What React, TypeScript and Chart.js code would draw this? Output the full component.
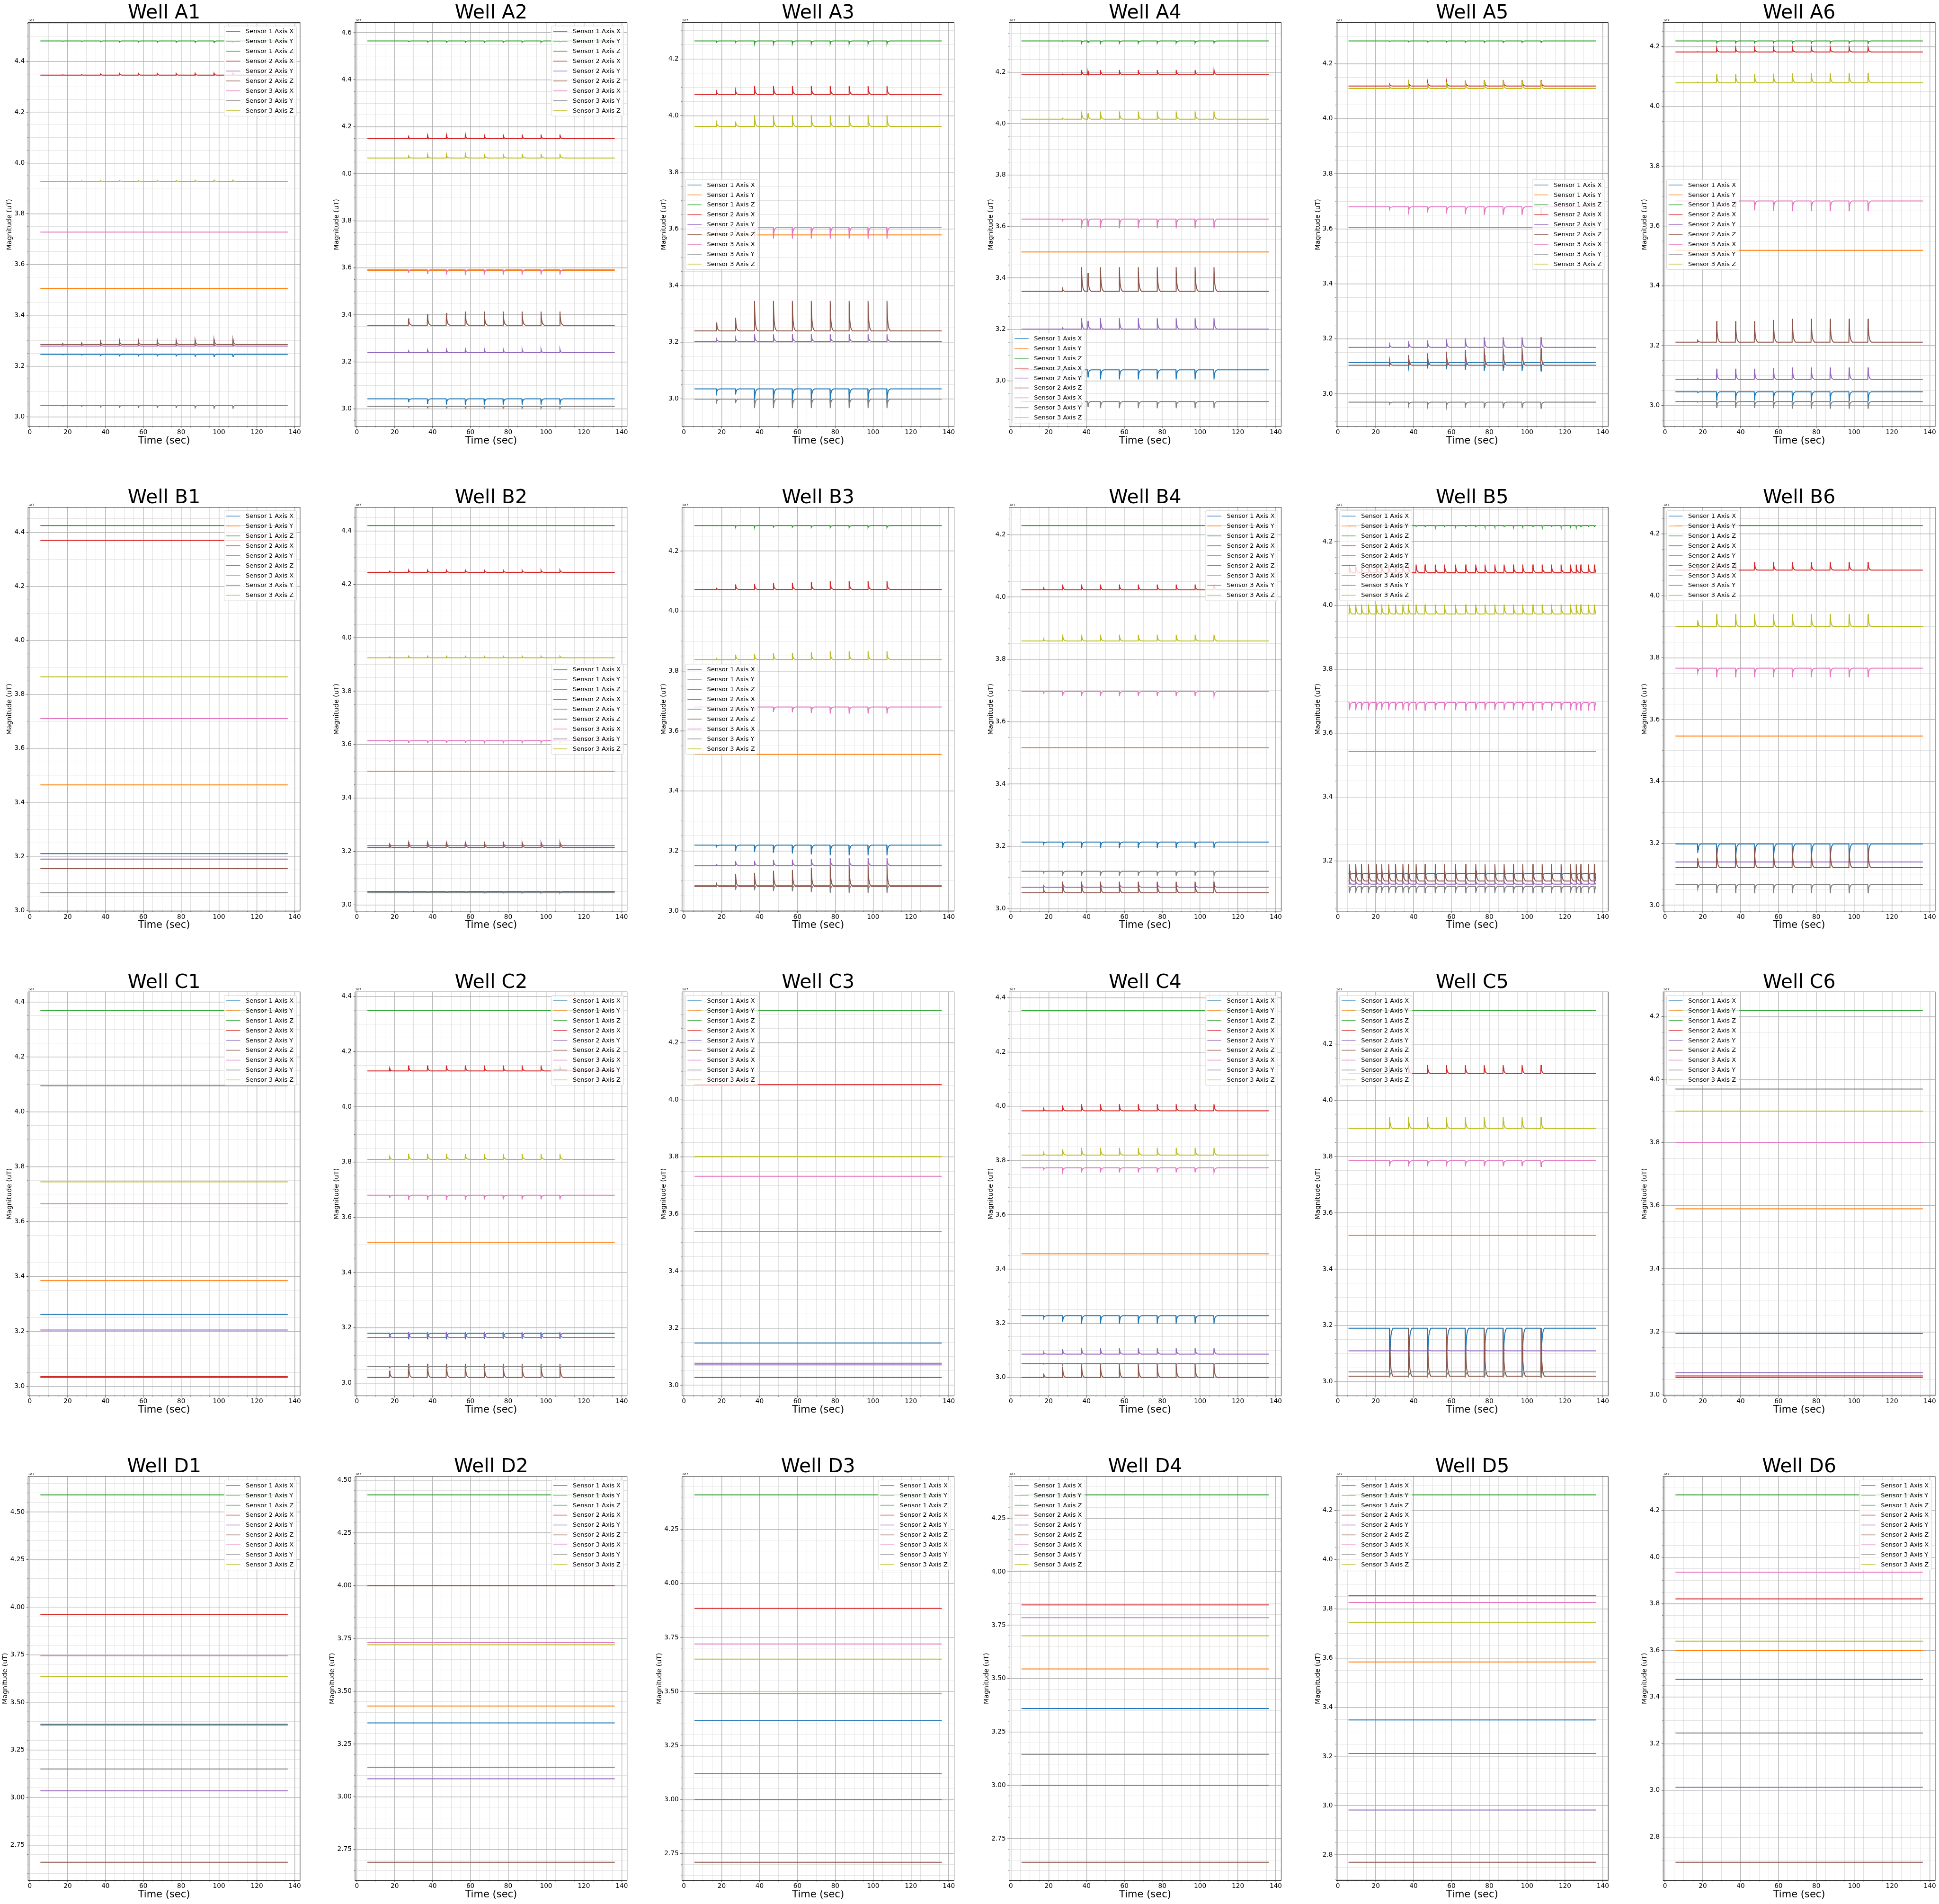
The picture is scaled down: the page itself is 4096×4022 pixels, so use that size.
import React, { useEffect, useRef } from 'react';
import { Chart, registerables } from 'chart.js';

Chart.register(...registerables);

const S = 0.722;
const FONT = "'DejaVu Sans', 'Liberation Sans', sans-serif";

const WELLS = [
  'A1', 'A2', 'A3', 'A4', 'A5', 'A6',
  'B1', 'B2', 'B3', 'B4', 'B5', 'B6',
  'C1', 'C2', 'C3', 'C4', 'C5', 'C6',
  'D1', 'D2', 'D3', 'D4', 'D5', 'D6',
];

const SERIES_LABELS = [
  'Sensor 1 Axis X', 'Sensor 1 Axis Y', 'Sensor 1 Axis Z',
  'Sensor 2 Axis X', 'Sensor 2 Axis Y', 'Sensor 2 Axis Z',
  'Sensor 3 Axis X', 'Sensor 3 Axis Y', 'Sensor 3 Axis Z',
];

const SERIES_COLORS = [
  '#1f77b4', '#ff7f0e', '#2ca02c', '#d62728', '#9467bd',
  '#8c564b', '#e377c2', '#7f7f7f', '#bcbd22',
];

// time span of the recordings (sec)
const TIME_START = 5.6;
const TIME_END = 136.3;

// y-axis major tick step (units of 1e7) per well
const Y_MAJOR_STEP = [
  0.2, 0.2, 0.2, 0.2, 0.2, 0.2,
  0.2, 0.2, 0.2, 0.2, 0.2, 0.2,
  0.2, 0.2, 0.2, 0.2, 0.2, 0.2,
  0.25, 0.25, 0.25, 0.25, 0.2, 0.2,
];

// baseline magnitude (1e7) per well, series order as SERIES_LABELS
const BASELINE = [
  [3.246, 3.505, 4.481, 4.346, 3.279, 3.285, 3.728, 3.045, 3.928],
  [3.043, 3.588, 4.565, 4.149, 3.239, 3.356, 3.592, 3.011, 4.067],
  [3.035, 3.579, 4.264, 4.075, 3.203, 3.240, 3.606, 2.999, 3.962],
  [3.043, 3.501, 4.321, 4.190, 3.201, 3.348, 3.629, 2.920, 4.017],
  [3.114, 3.604, 4.283, 4.119, 3.169, 3.104, 3.680, 2.970, 4.110],
  [3.046, 3.519, 4.219, 4.182, 3.087, 3.212, 3.684, 3.013, 4.079],
  [3.210, 3.465, 4.425, 4.370, 3.190, 3.155, 3.710, 3.065, 3.865],
  [3.050, 3.500, 4.420, 4.245, 3.222, 3.215, 3.615, 3.045, 3.925],
  [3.219, 3.522, 4.285, 4.072, 3.151, 3.082, 3.680, 3.085, 3.838],
  [3.214, 3.517, 4.229, 4.023, 3.069, 3.051, 3.697, 3.120, 3.859],
  [3.161, 3.542, 4.250, 4.103, 3.127, 3.137, 3.696, 3.120, 3.973],
  [3.198, 3.547, 4.227, 4.083, 3.140, 3.121, 3.766, 3.067, 3.901],
  [3.262, 3.385, 4.370, 3.035, 3.205, 3.032, 3.665, 4.095, 3.745],
  [3.180, 3.510, 4.350, 4.130, 3.165, 3.020, 3.680, 3.060, 3.810],
  [3.148, 3.539, 4.314, 4.053, 3.071, 3.027, 3.732, 3.077, 3.801],
  [3.228, 3.456, 4.354, 3.983, 3.086, 3.000, 3.773, 3.052, 3.820],
  [3.190, 3.520, 4.320, 4.095, 3.110, 3.020, 3.785, 3.035, 3.900],
  [3.195, 3.590, 4.220, 3.060, 3.070, 3.055, 3.800, 3.970, 3.900],
  [3.385, 3.380, 4.590, 3.960, 3.035, 2.660, 3.745, 3.150, 3.635],
  [3.350, 3.430, 4.430, 4.000, 3.085, 2.690, 3.730, 3.140, 3.720],
  [3.365, 3.490, 4.410, 3.885, 3.000, 2.710, 3.720, 3.120, 3.650],
  [3.360, 3.545, 4.360, 3.845, 3.000, 2.640, 3.785, 3.145, 3.700],
  [3.348, 3.584, 4.263, 3.853, 2.982, 2.770, 3.826, 3.212, 3.743],
  [3.476, 3.600, 4.267, 3.821, 3.013, 2.692, 3.936, 3.246, 3.640],
];

// signed peak height of the stimulation spikes (1e7) per well and series
const SPIKE_PEAK = [
  [-0.008, 0, -0.006, 0.008, 0.008, 0.02, 0, -0.011, 0.004],
  [-0.025, 0, -0.006, 0.018, 0.015, 0.058, -0.021, -0.008, 0.018],
  [-0.045, 0, -0.01, 0.03, 0.025, 0.106, -0.04, -0.032, 0.04],
  [-0.037, 0, -0.008, 0.018, 0.043, 0.094, -0.036, -0.026, 0.03],
  [-0.031, 0, -0.005, 0.022, 0.037, 0.062, -0.03, -0.022, 0.03],
  [-0.031, 0, -0.008, 0.015, 0.04, 0.078, -0.033, -0.022, 0.032],
  [0, 0, 0, 0, 0, 0, 0, 0, 0],
  [-0.005, 0, 0, 0.008, 0.012, 0.02, -0.008, 0, 0.006],
  [-0.034, 0, -0.006, 0.028, 0.025, 0.069, -0.022, -0.025, 0.028],
  [-0.02, 0, 0, 0.017, 0.015, 0.036, -0.015, -0.014, 0.02],
  [-0.015, 0, -0.003, 0.025, 0.01, 0.053, -0.024, -0.02, 0.03],
  [-0.058, 0, 0, 0.026, 0, 0.062, -0.028, -0.027, 0.04],
  [0, 0, 0, 0, 0, 0, 0, 0, 0],
  [-0.02, 0, 0, 0.02, 0.02, 0.05, -0.015, -0.01, 0.02],
  [0, 0, 0, 0, 0, 0, 0, 0, 0],
  [-0.03, 0, 0, 0.025, 0.023, 0.049, -0.017, -0.005, 0.027],
  [-0.17, 0, 0, 0.03, 0.01, 0.17, -0.02, -0.02, 0.04],
  [0, 0, 0, 0, 0, 0, 0, 0, 0],
  [0, 0, 0, 0, 0, 0, 0, 0, 0],
  [0, 0, 0, 0, 0, 0, 0, 0, 0],
  [0, 0, 0, 0, 0, 0, 0, 0, 0],
  [0, 0, 0, 0, 0, 0, 0, 0, 0],
  [0, 0, 0, 0, 0, 0, 0, 0, 0],
  [0, 0, 0, 0, 0, 0, 0, 0, 0],
];

const T10 = [17.3, 27.3, 37.3, 47.3, 57.3, 67.3, 77.3, 87.3, 97.3, 107.3];
const T9 = [27.3, 37.3, 47.3, 57.3, 67.3, 77.3, 87.3, 97.3, 107.3];
const T_A4 = [27.3, 37.3, 40.7, 47.3, 57.3, 67.3, 77.3, 87.3, 97.3, 107.3];
const T_B5 = [
  6.0, 9.4, 12.4, 16.1, 20.3, 23.1, 26.8, 30.4, 34.3, 37.2, 41.3, 46.0, 51.4,
  56.3, 62.1, 67.5, 72.8, 77.7, 82.9, 87.8, 92.7, 97.6, 103.0, 107.9, 112.8,
  117.9, 122.9, 125.9, 128.3, 132.3, 135.5,
];

// spike onset times (sec) per well
const SPIKE_TIMES = [
  T10, T9, T10, T_A4, T9, T10,
  [], T10, T10, T10, T_B5, T10,
  [], T10, [], T10, T9, [],
  [], [], [], [], [], [],
];

// relative size of each spike per well
const SPIKE_WEIGHT = [
  [0.2, 0.3, 0.6, 0.8, 0.8, 0.8, 0.8, 0.9, 1, 1],
  [0.5, 0.8, 0.9, 1, 1, 1, 1, 1, 1],
  [0.28, 0.44, 1, 1, 1, 1, 1, 1, 1, 1],
  [0.1, 1, 0.75, 1, 1, 1, 1, 1, 1, 1],
  [0.3, 0.6, 0.7, 0.8, 0.9, 1, 1, 1, 1],
  [0.08, 0.9, 0.9, 0.9, 0.95, 1, 1, 1, 1, 1],
  [],
  [0.5, 1, 1, 1, 1, 1, 1, 1, 1, 1],
  [0.1, 0.6, 0.65, 0.75, 0.8, 0.9, 1, 1, 1, 1],
  [0.3, 1, 1, 1, 1, 1, 1, 1, 1, 1],
  [],
  [0.5, 1, 1, 1, 1, 1, 1, 1, 1, 1],
  [],
  [0.5, 1, 1, 1, 1, 1, 1, 1, 1, 1],
  [],
  [0.3, 0.8, 1, 1, 1, 1, 1, 1, 1, 1],
  [1, 1, 1, 1, 1, 1, 1, 1, 1],
  [], [], [], [], [], [], [],
];

// shape of one spike: [seconds after onset, fraction of peak]
const SPIKE_PROFILE = [
  [-0.08, 0], [0.05, 1], [0.22, 0.6], [0.45, 0.33], [0.8, 0.14], [1.25, 0.05], [1.8, 0],
];

const LEGEND_LOC = [
  'upper right', 'upper right', 'center left', 'lower left', 'center right', 'center left',
  'upper right', 'center right', 'center left', 'upper right', 'upper left', 'upper left',
  'upper right', 'upper right', 'upper left', 'upper right', 'upper left', 'upper left',
  'upper right', 'upper right', 'upper right', 'upper left', 'upper left', 'upper right',
];

type Pt = { x: number; y: number };

function buildSeries(w: number, s: number): Pt[] {
  const b = BASELINE[w][s];
  const a = SPIKE_PEAK[w][s];
  const pts: Pt[] = [{ x: TIME_START, y: b }];
  if (a !== 0) {
    SPIKE_TIMES[w].forEach((t, i) => {
      const k = SPIKE_WEIGHT[w][i] ?? 1;
      SPIKE_PROFILE.forEach(([dx, p]) => {
        const x = t + dx;
        if (x > TIME_START && x < TIME_END) pts.push({ x, y: b + a * k * p });
      });
    });
  }
  pts.push({ x: TIME_END, y: b });
  return pts;
}

type Tk = { value: number; major: boolean };

function makeTicks(min: number, max: number, major: number, minor: number): Tk[] {
  const out: Tk[] = [];
  const start = Math.ceil(min / minor - 1e-9);
  const end = Math.floor(max / minor + 1e-9);
  for (let i = start; i <= end; i++) {
    const v = +(i * minor).toFixed(6);
    const r = v / major;
    out.push({ value: v, major: Math.abs(r - Math.round(r)) < 1e-6 });
  }
  return out;
}

const GRID_MAJOR = 'rgba(176,176,176,0.9)';
const GRID_MINOR = 'rgba(200,200,200,0.7)';

function WellChart({ w }: { w: number }) {
  const ref = useRef<HTMLCanvasElement | null>(null);
  const c = w % 6;
  const r = Math.floor(w / 6);
  const colLeft = (82 + 956.8 * c) * S;
  const rowTop = (66 + 1418 * r) * S;
  const plotW = 796 * S;
  const plotH = 1182 * S;
  const cl = Math.floor(colLeft - 55);
  const ct = Math.floor(rowTop - 47);
  const yW = colLeft - cl;
  const topPad = rowTop - ct;
  const xH = 48;
  const W = Math.ceil(yW + plotW + 25);
  const H = Math.ceil(topPad + plotH + xH);

  useEffect(() => {
    const canvas = ref.current;
    if (!canvas) return;
    const datasets = SERIES_LABELS.map((label, s) => ({
      label,
      data: buildSeries(w, s),
      borderColor: SERIES_COLORS[s],
      backgroundColor: SERIES_COLORS[s],
      borderWidth: 2,
      pointRadius: 0,
      fill: false,
      tension: 0,
      order: 8 - s,
    }));
    let lo = Infinity;
    let hi = -Infinity;
    datasets.forEach((d) => d.data.forEach((p) => { lo = Math.min(lo, p.y); hi = Math.max(hi, p.y); }));
    const yMin = lo - 0.05 * (hi - lo);
    const yMax = hi + 0.05 * (hi - lo);
    const xMin = TIME_START - 0.05 * (TIME_END - TIME_START);
    const xMax = TIME_END + 0.05 * (TIME_END - TIME_START);
    const yStep = Y_MAJOR_STEP[w];
    const yDec = yStep === 0.25 ? 2 : 1;
    const yLabelOffset = yDec === 2 ? 47.5 : 38.5;
    const xTicks = makeTicks(xMin, xMax, 20, 5);
    const yTicks = makeTicks(yMin, yMax, yStep, 0.05);

    const gridColor = (ctx: any) => (ctx.tick && ctx.tick.major ? GRID_MAJOR : GRID_MINOR);
    const gridWidth = (ctx: any) => (ctx.tick && ctx.tick.major ? 1.45 : 0.75);

    const decor = {
      id: 'decor',
      afterDatasetsDraw(chart: any) {
        const ctx = chart.ctx as CanvasRenderingContext2D;
        const a = chart.chartArea;
        ctx.save();
        const fs = 13;
        ctx.font = `${fs}px ${FONT}`;
        let tw = 0;
        SERIES_LABELS.forEach((t) => { tw = Math.max(tw, ctx.measureText(t).width); });
        const bw = 45.5 + tw + 6.5;
        const rowH = 20.9;
        const bh = 11.6 * 2 + rowH * 8;
        const pad = 7.2;
        const loc = LEGEND_LOC[w];
        const bx = loc.includes('right') ? a.right - pad - bw : a.left + pad;
        let by = a.top + pad;
        if (loc.startsWith('center')) by = (a.top + a.bottom) / 2 - bh / 2;
        if (loc.startsWith('lower')) by = a.bottom - pad - bh;
        ctx.beginPath();
        (ctx as any).roundRect(bx, by, bw, bh, 3);
        ctx.fillStyle = 'rgba(255,255,255,0.8)';
        ctx.fill();
        ctx.lineWidth = 0.8;
        ctx.strokeStyle = '#cccccc';
        ctx.stroke();
        SERIES_LABELS.forEach((t, i) => {
          const cy = by + 11.6 + i * rowH;
          ctx.globalAlpha = 0.8;
          ctx.strokeStyle = SERIES_COLORS[i];
          ctx.lineWidth = 1.6;
          ctx.beginPath();
          ctx.moveTo(bx + 4.3, cy);
          ctx.lineTo(bx + 33.9, cy);
          ctx.stroke();
          ctx.globalAlpha = 1;
          ctx.fillStyle = '#000';
          ctx.textBaseline = 'middle';
          ctx.textAlign = 'left';
          ctx.fillText(t, bx + 45.5, cy + 0.5);
        });
        ctx.restore();
      },
      afterDraw(chart: any) {
        const ctx = chart.ctx as CanvasRenderingContext2D;
        const a = chart.chartArea;
        const xs = chart.scales.x;
        const ys = chart.scales.y;
        ctx.save();
        ctx.strokeStyle = '#000';
        ctx.lineWidth = 0.9;
        ctx.strokeRect(a.left, a.top, a.right - a.left, a.bottom - a.top);
        xs.ticks.forEach((t: any) => {
          const px = xs.getPixelForValue(t.value);
          ctx.lineWidth = t.major ? 0.7 : 0.5;
          ctx.beginPath();
          ctx.moveTo(px, a.bottom);
          ctx.lineTo(px, a.bottom + (t.major ? 3.5 : 2));
          ctx.stroke();
        });
        ys.ticks.forEach((t: any) => {
          const py = ys.getPixelForValue(t.value);
          ctx.lineWidth = t.major ? 0.7 : 0.5;
          ctx.beginPath();
          ctx.moveTo(a.left, py);
          ctx.lineTo(a.left - (t.major ? 3.5 : 2), py);
          ctx.stroke();
        });
        ctx.fillStyle = '#000';
        ctx.textAlign = 'center';
        ctx.textBaseline = 'alphabetic';
        ctx.font = `41px ${FONT}`;
        ctx.fillText('Well ' + WELLS[w], (a.left + a.right) / 2, a.top - 8.7);
        ctx.textAlign = 'left';
        ctx.font = `7px ${FONT}`;
        ctx.fillText('1e7', a.left, a.top - 2.9);
        ctx.restore();
      },
    };

    const chart = new Chart(canvas, {
      type: 'line',
      data: { datasets },
      options: {
        animation: false,
        responsive: false,
        events: [],
        normalized: true,
        layout: {
          padding: { left: 0, top: topPad, right: W - yW - plotW, bottom: H - topPad - plotH - xH },
        },
        plugins: {
          legend: { display: false },
          tooltip: { enabled: false },
          title: { display: false },
        },
        scales: {
          x: {
            type: 'linear',
            min: xMin,
            max: xMax,
            afterBuildTicks: (s: any) => { s.ticks = xTicks.map((t) => ({ ...t })); },
            afterFit: (s: any) => { s.height = xH; },
            ticks: {
              autoSkip: false,
              maxRotation: 0,
              minRotation: 0,
              padding: 4,
              color: '#000',
              font: { family: FONT, size: 13.7 },
              callback: (v: any, i: number, ts: any[]) => (ts[i] && ts[i].major ? String(Math.round(Number(v))) : ''),
            },
            grid: { drawTicks: false, color: gridColor, lineWidth: gridWidth },
            border: { display: false },
            title: {
              display: true,
              text: 'Time (sec)',
              color: '#000',
              font: { family: FONT, size: 21, lineHeight: 1 },
              padding: { top: 0, bottom: 7.5 },
            },
          },
          y: {
            type: 'linear',
            min: yMin,
            max: yMax,
            afterBuildTicks: (s: any) => { s.ticks = yTicks.map((t) => ({ ...t })); },
            afterFit: (s: any) => { s.width = yW; },
            ticks: {
              autoSkip: false,
              padding: 7,
              color: '#000',
              font: { family: FONT, size: 13.7 },
              callback: (v: any, i: number, ts: any[]) => (ts[i] && ts[i].major ? Number(v).toFixed(yDec) : ''),
            },
            grid: { drawTicks: false, color: gridColor, lineWidth: gridWidth },
            border: { display: false },
            title: {
              display: true,
              text: 'Magnitude (uT)',
              color: '#000',
              font: { family: FONT, size: 14.2, lineHeight: 1 },
              padding: { top: Math.max(0, yW - yLabelOffset - 7.1), bottom: 0 },
            },
          },
        },
      },
      plugins: [decor],
    } as any);
    return () => chart.destroy();
  }, [w]);

  return (
    <canvas
      ref={ref}
      width={W}
      height={H}
      style={{ position: 'absolute', left: cl, top: ct, width: W, height: H }}
    />
  );
}

export default function App() {
  return (
    <div style={{ position: 'absolute', left: 0, top: 0, width: 4096, height: 4022, background: '#fff', overflow: 'hidden' }}>
      {WELLS.map((_, w) => (
        <WellChart key={w} w={w} />
      ))}
    </div>
  );
}
